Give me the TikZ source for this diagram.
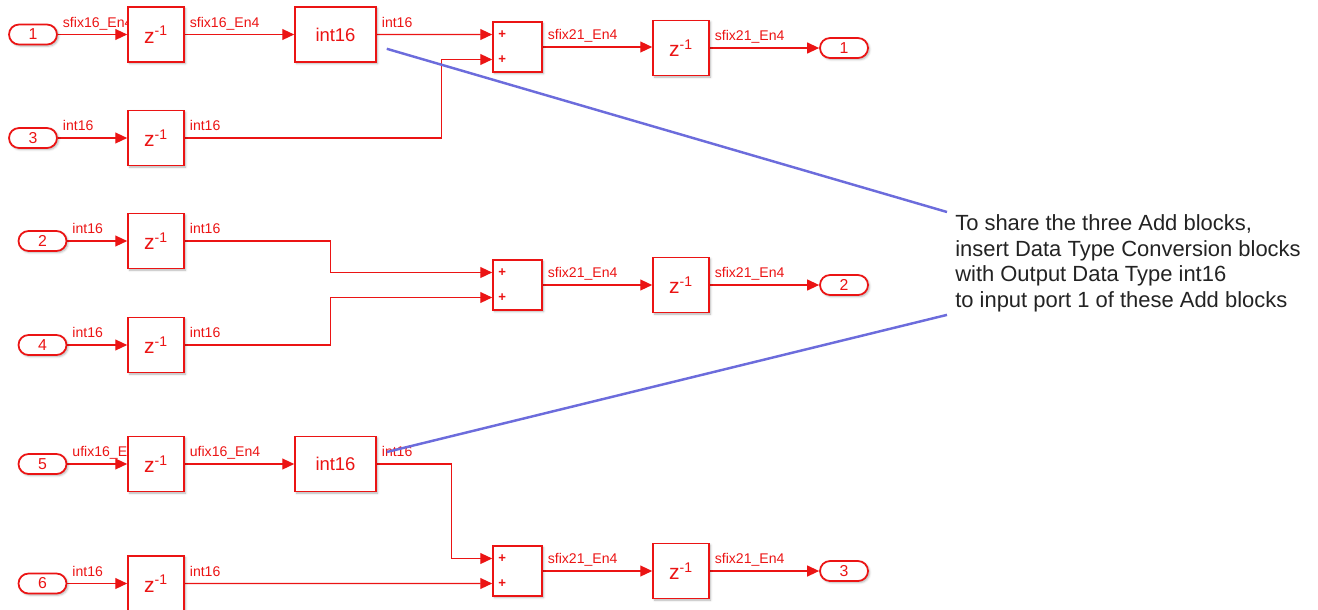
\documentclass[tikz,border=0pt]{standalone}
\usepackage{fontspec}
\setmainfont{Liberation Sans}
\usepackage{xcolor}
\definecolor{slred}{RGB}{235,20,20}
\definecolor{slblue}{RGB}{108,108,220}
\definecolor{slnote}{RGB}{35,35,35}
\usepackage{tikz}
\usetikzlibrary{arrows.meta, positioning, shapes.misc, calc, shadows.blur}
\pgfdeclarelayer{wires}
\pgfsetlayers{wires,main}

\tikzset{
  blk/.style={draw=slred, fill=white, line width=0.9pt, text=slred, inner sep=0pt,
      blur shadow={shadow xshift=0.9pt, shadow yshift=-0.9pt, shadow blur radius=1.2pt, shadow opacity=30}},
  delay/.style={blk, minimum width=1.12cm, minimum height=1.1cm, font=\fontsize{12}{13}\selectfont},
  convert/.style={blk, minimum width=1.62cm, minimum height=1.1cm, font=\fontsize{10.5}{12}\selectfont},
  adder/.style={blk, minimum width=0.98cm, minimum height=1.0cm},
  inport/.style={blk, line width=1pt, rounded rectangle, minimum width=0.96cm, minimum height=0.4cm, font=\fontsize{9}{10}\selectfont},
  plusmark/.style={text=slred, inner sep=0pt, font=\fontsize{7.5}{8}\selectfont\bfseries},
  sig/.style={draw=slred, line width=0.8pt, -{Triangle[length=6.8pt, width=6.2pt]}},
  siglabel/.style={text=slred, inner sep=0pt, anchor=base west, xshift=2.5pt, yshift=4pt, font=\fontsize{8}{9}\selectfont},
  callout/.style={draw=slblue, line width=1.4pt},
}

\begin{document}
\begin{tikzpicture}[x=0.02cm, y=-0.02cm]
\useasboundingbox (0,0) rectangle (1318,609);

% === Inputs ===
\node[inport] (in1) at (33,34.5) {1};
\node[inport] (in3) at (33,138) {3};
\node[inport] (in2) at (42.5,241) {2};
\node[inport] (in4) at (42.5,345) {4};
\node[inport] (in5) at (42.5,464) {5};
\node[inport] (in6) at (42.5,583.5) {6};

% === Unit delays ===
\node[delay] (dly1) at (156,34.5) {z\textsuperscript{-1}};
\node[delay] (dly3) at (156,138) {z\textsuperscript{-1}};
\node[delay] (dly2) at (156,241) {z\textsuperscript{-1}};
\node[delay] (dly4) at (156,345) {z\textsuperscript{-1}};
\node[delay] (dly5) at (156,464) {z\textsuperscript{-1}};
\node[delay] (dly6) at (156,583.5) {z\textsuperscript{-1}};

% === Data type conversions ===
\node[convert] (cnv1) at (335.5,34.5) {int16};
\node[convert] (cnv5) at (335.5,464) {int16};

% === Add blocks ===
\node[adder] (add1) at (517.5,47) {};
\node[adder] (add2) at (517.5,285) {};
\node[adder] (add3) at (517.5,571) {};
\foreach \a in {add1,add2,add3} {
  \coordinate (\a in1) at ([yshift=0.25cm]\a.west);
  \coordinate (\a in2) at ([yshift=-0.25cm]\a.west);
  \node[plusmark] (\a p1) at ([xshift=0.2cm]\a in1) {+};
  \node[plusmark] (\a p2) at ([xshift=0.2cm]\a in2) {+};
}

% === Output delays and outputs ===
\node[delay] (odly1) at (681,48) {z\textsuperscript{-1}};
\node[delay] (odly2) at (681,285) {z\textsuperscript{-1}};
\node[delay] (odly3) at (681,571) {z\textsuperscript{-1}};
\node[inport] (out1) at (844,48) {1};
\node[inport] (out2) at (844,285) {2};
\node[inport] (out3) at (844,571) {3};

% === Signal lines ===
\begin{pgfonlayer}{wires}
\draw[sig] (in1.east) -- node[siglabel, at start] {sfix16\_En4} (dly1.west);
\draw[sig] (dly1.east) -- node[siglabel, at start] {sfix16\_En4} (cnv1.west);
\draw[sig] (cnv1.east) -- node[siglabel, at start] {int16} (add1in1);
\draw[sig] (in3.east) -- node[siglabel, at start] {int16} (dly3.west);
\draw[sig] (dly3.east) node[siglabel] {int16} -| ([xshift=-1.02cm]add1in2) -- (add1in2);

\draw[sig] (in2.east) -- node[siglabel, at start] {int16} (dly2.west);
\draw[sig] (dly2.east) node[siglabel] {int16} -| ([xshift=-3.24cm]add2in1) -- (add2in1);
\draw[sig] (in4.east) -- node[siglabel, at start] {int16} (dly4.west);
\draw[sig] (dly4.east) node[siglabel] {int16} -| ([xshift=-3.24cm]add2in2) -- (add2in2);

\draw[sig] (in5.east) -- node[siglabel, at start] {ufix16\_En4} (dly5.west);
\draw[sig] (dly5.east) -- node[siglabel, at start] {ufix16\_En4} (cnv5.west);
\draw[sig] (cnv5.east) node[siglabel] {int16} -| ([xshift=-0.82cm]add3in1) -- (add3in1);
\draw[sig] (in6.east) -- node[siglabel, at start] {int16} (dly6.west);
\draw[sig] (dly6.east) -- node[siglabel, at start] {int16} (add3in2);

\draw[sig] (add1.east) -- node[siglabel, at start] {sfix21\_En4} (add1.east -| odly1.west);
\draw[sig] (odly1.east) -- node[siglabel, at start] {sfix21\_En4} (out1.west);
\draw[sig] (add2.east) -- node[siglabel, at start] {sfix21\_En4} (odly2.west);
\draw[sig] (odly2.east) -- node[siglabel, at start] {sfix21\_En4} (out2.west);
\draw[sig] (add3.east) -- node[siglabel, at start] {sfix21\_En4} (odly3.west);
\draw[sig] (odly3.east) -- node[siglabel, at start] {sfix21\_En4} (out3.west);
\end{pgfonlayer}

% === Annotation ===
\node[anchor=north west, inner xsep=4.5pt, inner ysep=1.5pt, align=left, text=slnote,
      font=\fontsize{12.5}{14.5}\selectfont] (note) at (947,212)
     {To share the three Add blocks,\\insert Data Type Conversion blocks\\with Output Data Type int16\\to input port 1 of these Add blocks};
\coordinate (tip1) at ([xshift=0.2cm, yshift=0.28cm]cnv1.south east);
\coordinate (tip5) at ([xshift=0.2cm, yshift=0.24cm]cnv5.east);
\draw[callout] (tip1) -- (note.north west);
\draw[callout] (tip5) -- (note.south west);

\end{tikzpicture}
\end{document}
